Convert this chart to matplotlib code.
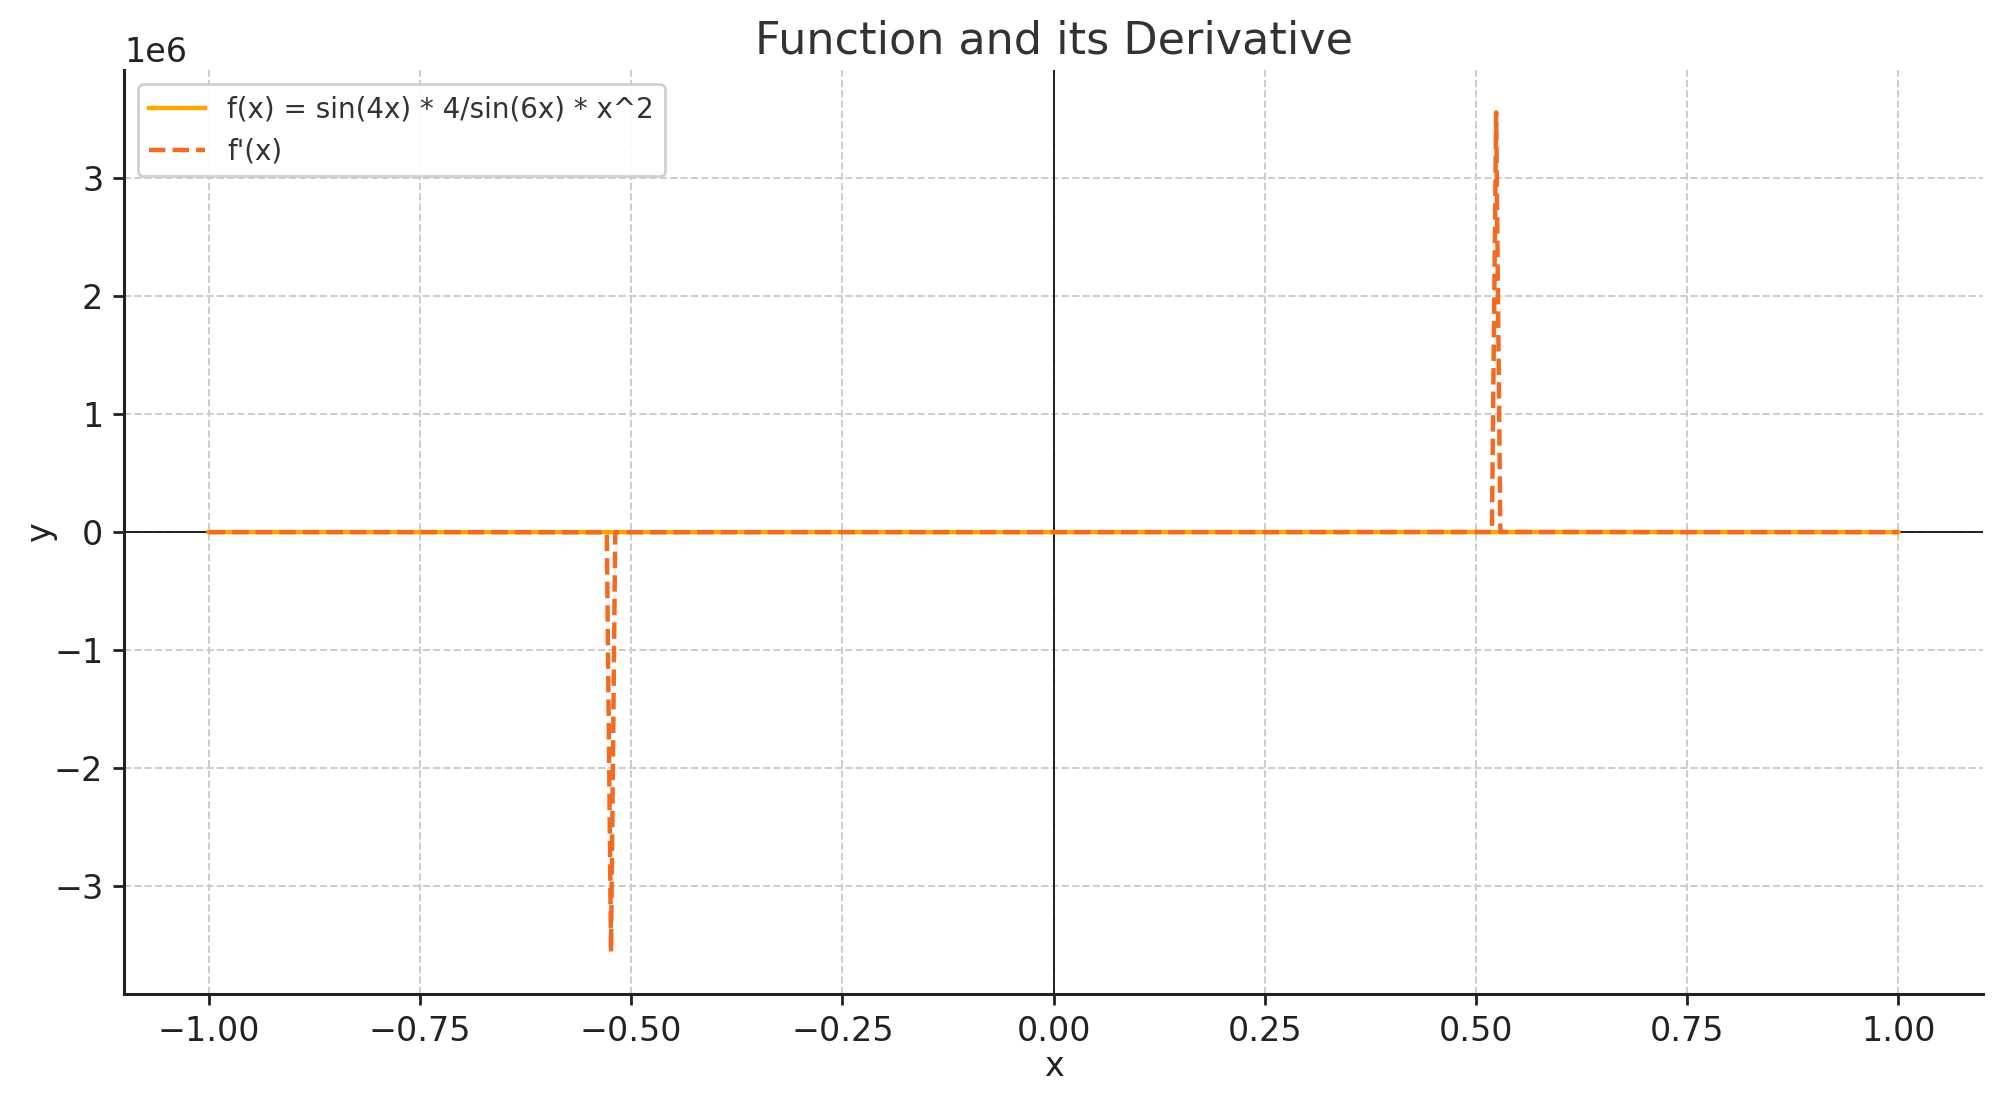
import matplotlib
matplotlib.use("Agg")
import matplotlib.pyplot as plt

# Values (y in raw units; axis shows 1e6 offset)
x_f = [-1.0, -0.75, -0.5288, -0.5238, -0.5188, -0.25, 0.0, 0.25, 0.5188, 0.5238, 0.5288, 0.75, 1.0]
y_f = [11.0, 2.0, 25.0, -750.0, 25.0, 0.3, 0.0, 0.3, 25.0, -750.0, 25.0, 2.0, 11.0]

x_d = [-1.0, -0.75, -0.5288, -0.5238, -0.5188, -0.25, 0.0, 0.25, 0.5188, 0.5238, 0.5288, 0.75, 1.0]
y_d = [-30.0, -5.0, -1500.0, -3.56e6, -1200.0, -2.0, 0.0, 2.0, 1200.0, 3.56e6, 1500.0, 5.0, 30.0]

title = "Function and its Derivative"
label_f = "f(x) = sin(4x) * 4/sin(6x) * x^2"
label_d = "f'(x)"

plt.rcParams['font.family'] = ['DejaVu Sans']
fig = plt.figure(figsize=(10.015, 5.505), dpi=200)
ax = fig.add_axes([0.062, 0.0974, 0.928, 0.8386])

ax.plot(x_f, y_f, color='#FFA500', linewidth=1.6, label=label_f, zorder=3)
ax.plot(x_d, y_d, color='#F26B22', linewidth=1.6, linestyle='--', label=label_d, zorder=3)
ax.axhline(0, color='black', linewidth=0.6, zorder=2)
ax.axvline(0, color='black', linewidth=0.6, zorder=2)

ax.grid(True, linestyle='--', color='#cccccc', linewidth=0.7)
ax.set_axisbelow(True)
for s in ['top', 'right']:
    ax.spines[s].set_visible(False)
for s in ['left', 'bottom']:
    ax.spines[s].set_linewidth(1.1)
    ax.spines[s].set_color('#222222')

ax.set_title(title, fontsize=16, color='#333333', pad=6)
ax.set_xlabel('x', fontsize=12, color='#222222', labelpad=1)
ax.set_ylabel('y', fontsize=12, color='#222222', labelpad=-1)
ax.tick_params(axis='both', labelsize=12, colors='#222222', length=4, width=1)
ax.yaxis.get_offset_text().set_fontsize(12)
ax.set_yticks([-3e6, -2e6, -1e6, 0, 1e6, 2e6, 3e6])
ax.set_xticks([-1.0, -0.75, -0.5, -0.25, 0.0, 0.25, 0.5, 0.75, 1.0])

leg = ax.legend(loc='upper left', fontsize=10, framealpha=0.9, edgecolor='#cccccc', fancybox=True)
for t in leg.get_texts():
    t.set_color('#333333')

fig.savefig('out.png', dpi=200)
